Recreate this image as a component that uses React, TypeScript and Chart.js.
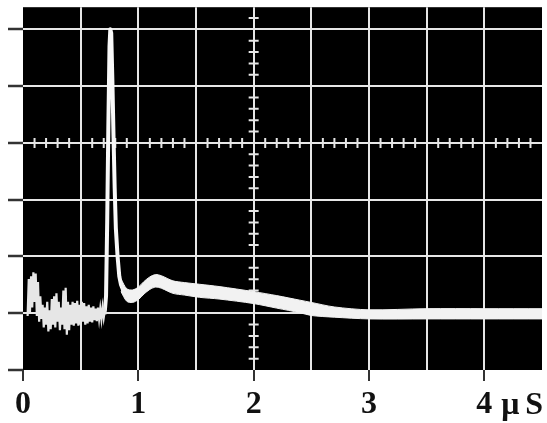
import React, { useEffect, useRef } from 'react';
import { Chart, registerables } from 'chart.js';

Chart.register(...registerables);

// ---- axes ----
const xTickValues = [0, 0.5, 1, 1.5, 2, 2.5, 3, 3.5, 4, 4.5];
const xTickLabels = ['0', '', '1', '', '2', '', '3', '', '4', ''];
const yTickValues = [0, 1, 2, 3, 4, 5, 6];
const unitPrefix = 'μ';
const unitSymbol = 'S';

// ---- trace: noisy pre-trigger section (µs, divisions) ----
const noiseTime = [
  0.04, 0.05, 0.06, 0.07, 0.08, 0.09, 0.1, 0.11, 0.12, 0.13, 0.14, 0.15, 0.16, 0.17, 0.18, 0.19,
  0.2, 0.21, 0.22, 0.23, 0.24, 0.25, 0.26, 0.27, 0.28, 0.29, 0.3, 0.31, 0.32, 0.33, 0.34, 0.35,
  0.36, 0.37, 0.38, 0.39, 0.4, 0.41, 0.42, 0.43, 0.44, 0.45, 0.46, 0.47, 0.48, 0.49, 0.5, 0.51,
  0.52, 0.53, 0.54, 0.55, 0.56, 0.57, 0.58, 0.59, 0.6, 0.61, 0.62, 0.63, 0.64, 0.65, 0.66, 0.67,
  0.68, 0.69, 0.7, 0.71, 0.72,
];
const noiseVolt = [
  0.95, 1.6, 1.0, 1.65, 1.1, 1.72, 1.2, 1.7, 0.95, 1.55, 0.85, 1.3, 0.9, 1.15, 0.75, 1.1,
  0.8, 1.2, 0.68, 1.05, 0.72, 1.25, 0.8, 1.3, 0.75, 1.35, 0.85, 1.2, 0.7, 1.1, 0.8, 1.4,
  0.72, 1.45, 0.62, 1.2, 0.7, 1.15, 0.8, 1.2, 0.78, 1.18, 0.82, 1.22, 0.78, 1.15, 0.8, 1.2,
  0.85, 1.18, 0.8, 1.12, 0.82, 1.15, 0.85, 1.1, 0.84, 1.12, 0.88, 1.08, 0.86, 1.1, 0.9, 1.08,
  0.9, 1.1, 0.92, 1.05, 0.98,
];

// ---- trace: main pulse ----
const spikeTime = [0.71, 0.72, 0.73, 0.74, 0.75, 0.757, 0.765, 0.775, 0.785, 0.795, 0.805, 0.82, 0.835, 0.85, 0.87];
const spikeVolt = [1.05, 1.3, 2.6, 4.3, 5.7, 6.0, 5.93, 5.1, 4.1, 3.2, 2.5, 2.0, 1.65, 1.5, 1.4];

// ---- trace: thick decaying tail (upper / lower edge of the band) ----
const bandTime = [0.85, 0.9, 0.95, 1.0, 1.05, 1.1, 1.15, 1.2, 1.3, 1.4, 1.53, 1.7, 2.0, 2.2, 2.4, 2.5, 2.7, 3.0, 3.5, 4.0, 4.5];
const bandUpper = [1.6, 1.43, 1.41, 1.46, 1.56, 1.64, 1.68, 1.66, 1.57, 1.54, 1.51, 1.47, 1.38, 1.31, 1.23, 1.19, 1.11, 1.06, 1.08, 1.08, 1.08];
const bandLower = [1.38, 1.21, 1.19, 1.24, 1.34, 1.42, 1.46, 1.44, 1.35, 1.32, 1.28, 1.25, 1.17, 1.09, 1.01, 0.96, 0.93, 0.9, 0.9, 0.9, 0.9];

const TRACE = '#f2f2f2';
const GRID = '#e6e6e6';
const CLEAR = 'rgba(0,0,0,0)';

const scopePlugin = {
  id: 'scope',
  beforeDraw(chart: any) {
    const { ctx, chartArea } = chart;
    ctx.save();
    ctx.fillStyle = '#000';
    ctx.fillRect(chartArea.left, chartArea.top, chartArea.right - chartArea.left, chartArea.bottom - chartArea.top);
    ctx.restore();
  },
  beforeDatasetsDraw(chart: any) {
    const { ctx, chartArea } = chart;
    const xs = chart.scales.x;
    const ys = chart.scales.y;
    const cx = xs.getPixelForValue(2);
    const cy = ys.getPixelForValue(4);
    ctx.save();
    ctx.strokeStyle = GRID;
    ctx.lineWidth = 2;
    ctx.beginPath();
    for (let k = 1; k < 45; k++) {
      if (k % 5 === 0) continue;
      const px = xs.getPixelForValue(k / 10);
      ctx.moveTo(px, cy - 5);
      ctx.lineTo(px, cy + 5);
    }
    for (let k = 1; k < 32; k++) {
      if (k % 5 === 0) continue;
      const py = ys.getPixelForValue(k / 5);
      if (py < chartArea.top) continue;
      ctx.moveTo(cx - 5, py);
      ctx.lineTo(cx + 5, py);
    }
    ctx.stroke();
    ctx.restore();
  },
  afterDraw(chart: any) {
    const { ctx, chartArea } = chart;
    const xs = chart.scales.x;
    const x4 = xs.getPixelForValue(4);
    const base = chartArea.bottom + 44;
    ctx.save();
    ctx.font = 'bold 32px "Liberation Serif"';
    ctx.fillStyle = '#111';
    ctx.textAlign = 'left';
    ctx.textBaseline = 'alphabetic';
    ctx.fillText(unitPrefix, x4 + 17, base);
    ctx.fillText(unitSymbol, x4 + 41, base);
    ctx.restore();
  },
};

const toPoints = (xs: number[], ys: number[]) => xs.map((x, i) => ({ x, y: ys[i] }));

export default function App() {
  const ref = useRef<HTMLCanvasElement>(null);
  useEffect(() => {
    if (!ref.current) return;
    const chart = new Chart(ref.current, {
      type: 'line',
      data: {
        datasets: [
          { data: toPoints(bandTime, bandUpper), borderColor: TRACE, borderWidth: 1, pointRadius: 0, fill: false, tension: 0.3 },
          { data: toPoints(bandTime, bandLower), borderColor: TRACE, backgroundColor: TRACE, borderWidth: 1, pointRadius: 0, fill: '-1', tension: 0.3 },
          { data: toPoints(noiseTime, noiseVolt), borderColor: '#e6e6e6', borderWidth: 2.2, pointRadius: 0, fill: false },
          { data: toPoints(spikeTime, spikeVolt), borderColor: '#f8f8f8', borderWidth: 4, borderJoinStyle: 'round', borderCapStyle: 'round', pointRadius: 0, fill: false },
        ],
      } as any,
      options: {
        animation: false,
        responsive: false,
        events: [],
        layout: { padding: { top: 7, right: 4, left: 0, bottom: 0 } },
        plugins: { legend: { display: false }, tooltip: { enabled: false } },
        scales: {
          x: {
            type: 'linear',
            min: 0,
            max: 4.5,
            afterBuildTicks: (s: any) => { s.ticks = xTickValues.map((v) => ({ value: v })); },
            afterFit: (s: any) => { s.height = 53; },
            border: { display: false },
            grid: {
              color: (c: any) => (c.tick && (c.tick.value === 0 || c.tick.value === 4.5) ? CLEAR : GRID),
              lineWidth: 2,
              drawTicks: true,
              tickLength: 11,
              tickWidth: 2,
              tickColor: (c: any) => (c.tick && Number.isInteger(c.tick.value) ? '#333' : CLEAR),
            },
            ticks: {
              autoSkip: false,
              maxRotation: 0,
              padding: 5,
              color: '#111',
              font: { family: 'Liberation Serif', weight: 'bold', size: 32 },
              callback: (_v: any, i: number) => xTickLabels[i],
            },
          },
          y: {
            type: 'linear',
            min: 0,
            max: 6.39,
            afterBuildTicks: (s: any) => { s.ticks = yTickValues.map((v) => ({ value: v })); },
            afterFit: (s: any) => { s.width = 23; },
            border: { display: false },
            grid: {
              color: (c: any) => (c.tick && c.tick.value === 0 ? CLEAR : GRID),
              lineWidth: 2,
              drawTicks: true,
              tickLength: 15,
              tickWidth: 2.5,
              tickColor: '#333',
            },
            ticks: { callback: () => '', padding: 0 },
          },
        },
      } as any,
      plugins: [scopePlugin],
    });
    return () => chart.destroy();
  }, []);
  return (
    <div style={{ position: 'fixed', left: 0, top: 0, width: 547, height: 423, background: '#fff' }}>
      <canvas ref={ref} width={547} height={423} style={{ display: 'block' }} />
    </div>
  );
}
